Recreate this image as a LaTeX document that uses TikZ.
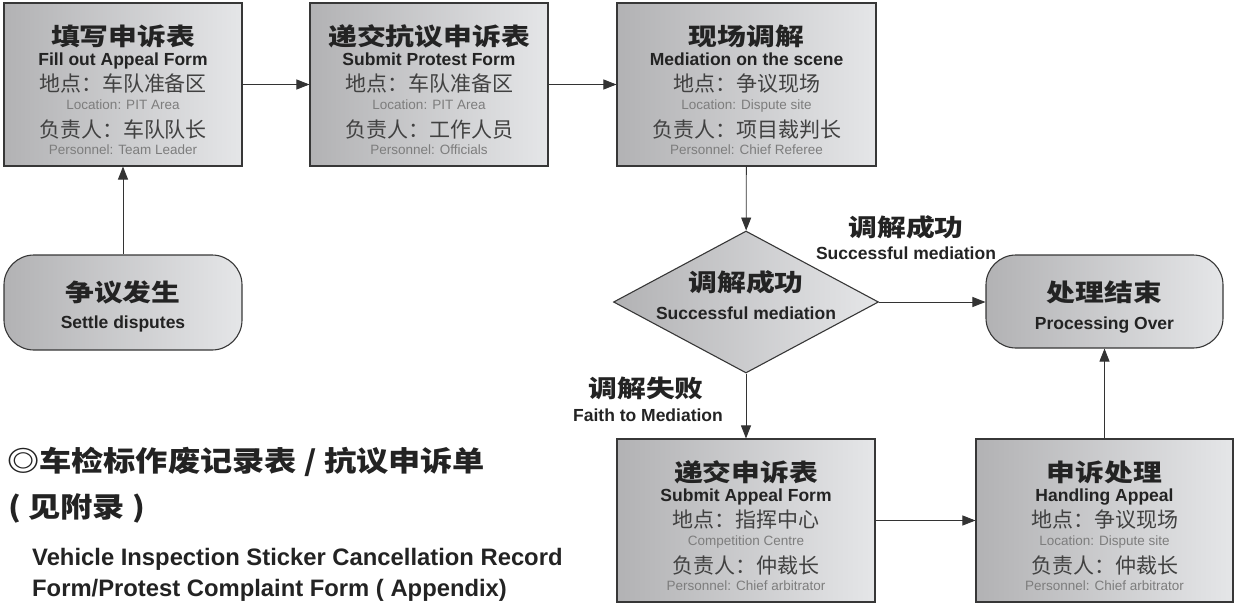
\documentclass[tikz,border=0pt]{standalone}
\usepackage{fontspec}
\setmainfont{Liberation Sans}
\newfontfamily\cjk{Noto Sans CJK SC}
\newfontfamily\cjkwide{Noto Sans CJK SC}[FakeStretch=1.2]
\newfontfamily\cjkbig{Noto Sans CJK SC}[FakeStretch=1.15]
\usetikzlibrary{arrows.meta,shapes.geometric}
\definecolor{boxL}{RGB}{178,178,180}
\definecolor{boxR}{RGB}{229,230,232}
\definecolor{edge}{RGB}{55,55,55}
\definecolor{ink}{RGB}{35,35,35}
\definecolor{soft}{RGB}{65,65,65}
\definecolor{pale}{RGB}{125,125,125}
% six text lines inside a step box
\newcommand{\boxlines}[7]{%
  \node[ttl] (#1-t) at ([yshift=-34pt]#1.north) {#2};
  \node[eng] (#1-e) at ([yshift=-57pt]#1.north) {#3};
  \node[cnl] (#1-p) at ([yshift=-81pt]#1.north) {#4};
  \node[gry] (#1-pe) at ([yshift=-102pt]#1.north) {#5};
  \node[cnl] (#1-r) at ([yshift=-127pt]#1.north) {#6};
  \node[gry] (#1-re) at ([yshift=-147pt]#1.north) {#7};
}
\begin{document}
\begin{tikzpicture}[x=1pt,y=-1pt,
    box/.style={draw=edge, line width=1.1pt, left color=boxL, right color=boxR, inner sep=0pt},
    term/.style={box, rounded corners=30pt},
    cond/.style={box, diamond, aspect=1.87},
    flow/.style={draw=black!80, line width=0.9pt, -{Triangle[length=13pt,width=10pt]}},
    ttl/.style={inner sep=0pt, text=ink, font=\cjkwide\bfseries\fontsize{24}{24}\selectfont, text height=21pt, text depth=3pt},
    eng/.style={inner sep=0pt, text=ink, font=\bfseries\fontsize{17.5}{17.5}\selectfont, text height=12.6pt, text depth=0pt},
    cnl/.style={inner sep=0pt, text=soft, font=\cjk\fontsize{21}{21}\selectfont, text height=18.5pt, text depth=2.5pt},
    gry/.style={inner sep=0pt, text=pale, font=\fontsize{13.5}{13.5}\selectfont, text height=9.7pt, text depth=0pt},
    note/.style={inner sep=0pt, text=ink, font=\cjkbig\bfseries\fontsize{28}{28}\selectfont, text height=24.6pt, text depth=3.4pt},
    noteen/.style={inner sep=0pt, text=ink, font=\bfseries\fontsize{23.8}{23.8}\selectfont, text height=17pt, text depth=0pt}]
  \useasboundingbox (0,0) rectangle (1235,605);

  % boxes
  \node[box, minimum width=238pt, minimum height=163pt] (fill) at (123,84.5) {};
  \node[box, minimum width=238pt, minimum height=163pt] (submit) at (429,84.5) {};
  \node[box, minimum width=259pt, minimum height=163pt] (scene) at (746.5,84.5) {};
  \node[term, minimum width=238pt, minimum height=95pt] (start) at (123,302.5) {};
  \node[cond, minimum width=265pt, minimum height=142pt] (ok) at (746,302) {};
  \node[term, minimum width=237pt, minimum height=93pt] (over) at (1104.5,301.5) {};
  \node[box, minimum width=258pt, minimum height=163pt] (appeal) at (746,520.5) {};
  \node[box, minimum width=257pt, minimum height=163pt] (handle) at (1104.5,520.5) {};

  \boxlines{fill}{填写申诉表}{Fill out Appeal Form}{地点：车队准备区}{Location: PIT Area}{负责人：车队队长}{Personnel: Team Leader}
  \boxlines{submit}{递交抗议申诉表}{Submit Protest Form}{地点：车队准备区}{Location: PIT Area}{负责人：工作人员}{Personnel: Officials}
  \boxlines{scene}{现场调解}{Mediation on the scene}{地点：争议现场}{Location: Dispute site}{负责人：项目裁判长}{Personnel: Chief Referee}
  \boxlines{appeal}{递交申诉表}{Submit Appeal Form}{地点：指挥中心}{Competition Centre}{负责人：仲裁长}{Personnel: Chief arbitrator}
  \boxlines{handle}{申诉处理}{Handling Appeal}{地点：争议现场}{Location: Dispute site}{负责人：仲裁长}{Personnel: Chief arbitrator}

  \node[ttl] (start-t) at ([yshift=10.5pt]start.center) {争议发生};
  \node[eng] (start-e) at ([yshift=-19.5pt]start.center) {Settle disputes};
  \node[ttl] (ok-t) at ([yshift=20pt]ok.center) {调解成功};
  \node[eng] (ok-e) at ([yshift=-11pt]ok.center) {Successful mediation};
  \node[ttl] (over-t) at ([yshift=9.5pt]over.center) {处理结束};
  \node[eng] (over-e) at ([yshift=-21.5pt]over.center) {Processing Over};

  % branch labels
  \node[ttl] (yes-t) at (906,227) {调解成功};
  \node[eng] (yes-e) at (906,253) {Successful mediation};
  \node[ttl] (no-t) at (646,388) {调解失败};
  \node[eng] (no-e) at (648,415) {Faith to Mediation};

  % arrows
  \draw[flow] (start) -- (fill);
  \draw[flow] (fill) -- (submit);
  \draw[flow] (submit) -- (scene);
  \draw[flow] (scene) -- (ok);
  \draw[flow] (ok.east) -- (ok.east -| over.west);
  \draw[flow] (ok) -- (appeal);
  \draw[flow] (appeal) -- (handle);
  \draw[flow] (handle) -- (over);

  % forms note
  \node[note, anchor=west] (forms) at (7,461) {◎车检标作废记录表 / 抗议申诉单};
  \node[note, anchor=west] (appx) at (8,507) {( 见附录 )};
  \node[noteen, anchor=west] (forms-en) at (32,557) {Vehicle Inspection Sticker Cancellation Record};
  \node[noteen, anchor=west] (forms-en2) at (32,588) {Form/Protest Complaint Form ( Appendix)};
\end{tikzpicture}
\end{document}
